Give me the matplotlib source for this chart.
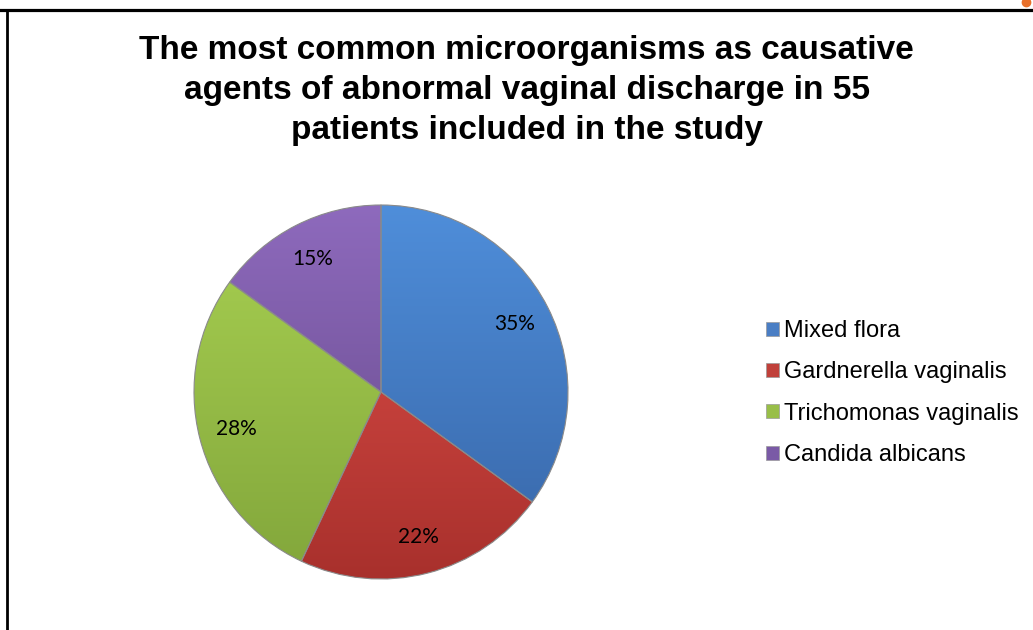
import numpy as np
import matplotlib.pyplot as plt
from matplotlib.colors import LinearSegmentedColormap
from matplotlib.lines import Line2D
from matplotlib.patches import Patch

categories = ['Mixed flora', 'Gardnerella vaginalis', 'Trichomonas vaginalis', 'Candida albicans']
shares = [35, 22, 28, 15]
# light (top) and dark (bottom) shade of each slice
tops = ['#4F8EDA', '#E2514B', '#A9D152', '#8E6ABD']
bottoms = ['#3765A6', '#A8302C', '#82A63B', '#634786']
legend_colors = ['#4A7EC4', '#C0403A', '#98BE48', '#7A5AA6']

title = ('The most common microorganisms as causative\n'
         'agents of abnormal vaginal discharge in 55\n'
         'patients included in the study')

W, H = 1033, 630
fig = plt.figure(figsize=(W / 100, H / 100), dpi=100)

# pie centre and radius in pixels
cx, cy, r = 381, 392, 187
half = 200
ax = fig.add_axes([(cx - half) / W, (H - cy - half) / H, 2 * half / W, 2 * half / H])

wedges, texts = ax.pie(shares, startangle=90, counterclock=False, radius=1,
                       labels=[f'{s}%' for s in shares], labeldistance=0.8,
                       wedgeprops=dict(linewidth=0.8, edgecolor='#8a8a8a', facecolor='none'),
                       textprops=dict(fontsize=15, family='Lato', color='black'))

grad = np.linspace(0, 1, 256).reshape(-1, 1)
for w, c1, c2 in zip(wedges, tops, bottoms):
    cmap = LinearSegmentedColormap.from_list('g', [c1, c2])
    im = ax.imshow(grad, cmap=cmap, extent=(-1, 1, -1, 1), origin='upper',
                   aspect='auto', zorder=0.5)
    im.set_clip_path(w)
for t in texts:
    t.set_zorder(5)
    t.set_ha('center')
    t.set_va('center')

lim = half / r
ax.set_xlim(-lim, lim)
ax.set_ylim(-lim, lim)
ax.set_aspect('equal')
ax.axis('off')

fig.text(0.5097, 1 - 35 / H, title, ha='center', va='top', fontsize=24,
         fontweight='bold', family='Liberation Sans', linespacing=1.37)

handles = [Patch(facecolor=c, edgecolor='#9a9a9a', linewidth=0.5) for c in legend_colors]
fig.legend(handles, categories, loc='upper left', bbox_to_anchor=(766 / W, 1 - 320 / H),
           frameon=False, prop=dict(family='Liberation Sans', size=17),
           handlelength=0.53, handleheight=0.53, handletextpad=0.25, labelspacing=0.82,
           borderpad=0, borderaxespad=0)

# frame lines at the top and left edge
fig.add_artist(Line2D([0, 1], [1 - 9.5 / H] * 2, color='black', lw=2.3))
fig.add_artist(Line2D([6.5 / W] * 2, [0, 1 - 9.5 / H], color='black', lw=2.0))
fig.add_artist(Line2D([1026 / W], [1 - 2 / H], marker='o', color='#E8702A', markersize=6))

fig.savefig('out.png', dpi=100)
